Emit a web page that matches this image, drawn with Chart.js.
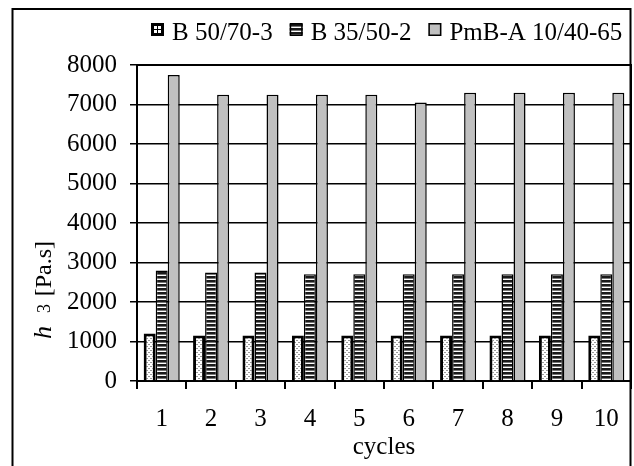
<!DOCTYPE html>
<html><head><meta charset="utf-8">
<script src="https://cdn.jsdelivr.net/npm/chart.js@4.4.0/dist/chart.umd.min.js"></script>
<style>html,body{margin:0;padding:0;background:#fff;}#wrap{width:634px;height:466px;position:relative;}</style>
</head><body><div id="wrap"><canvas id="c" width="634" height="466"></canvas></div>
<script>
const cycles = ['1','2','3','4','5','6','7','8','9','10'];
const b5070 = [1200,1150,1150,1150,1150,1150,1150,1150,1150,1150];
const b3550 = [2800,2750,2750,2700,2700,2700,2700,2700,2700,2700];
const pmba = [7750,7250,7250,7250,7250,7050,7300,7300,7300,7300];
const yTicks = [0,1000,2000,3000,4000,5000,6000,7000,8000];
const seriesNames = ['B 50/70-3','B 35/50-2','PmB-A 10/40-65'];
const xTitle = 'cycles';

const canvas = document.getElementById('c');
const ctx = canvas.getContext('2d');
function mkPattern(w,h,draw){const c=document.createElement('canvas');c.width=w;c.height=h;const g=c.getContext('2d');draw(g);return ctx.createPattern(c,'repeat');}
const dotPat = mkPattern(4,4,g=>{g.fillStyle='#fff';g.fillRect(0,0,4,4);g.fillStyle='#9a9a9a';g.fillRect(0,0,2,1);g.fillRect(2,2,2,1);});
const stripePat = mkPattern(4,4,g=>{g.fillStyle='#fff';g.fillRect(0,0,4,4);g.fillStyle='#1a1a1a';g.fillRect(0,0,4,2);g.fillStyle='#777';g.fillRect(0,2,4,1);});
const gray = '#c0c0c0';
const fills = [dotPat, stripePat, gray];
const FONT = '"Liberation Serif", "Times New Roman", serif';

const extras = {
  id:'extras',
  afterDraw(chart){
    const c = chart.ctx, a = chart.chartArea;
    c.save();
    c.strokeStyle='#000';
    c.lineWidth=2;
    c.beginPath();
    c.moveTo(12.5,470);c.lineTo(12.5,9);c.lineTo(630.5,9);c.lineTo(630.5,470);
    c.stroke();
    c.beginPath();c.moveTo(a.left,a.top);c.lineTo(a.right,a.top);c.lineTo(a.right,a.bottom);c.stroke();
    // legend
    c.font='25px '+FONT;
    c.textBaseline='alphabetic';
    let x = 151;
    const by = 23, bs = 13;
    seriesNames.forEach((name,i)=>{
      if(i===0){
        c.fillStyle='#000';c.fillRect(x,by,bs,bs);
        c.fillStyle='#fff';c.fillRect(x+3,by+3,3,3);c.fillRect(x+7,by+3,3,3);c.fillRect(x+3,by+7,3,3);c.fillRect(x+7,by+7,3,3);
      } else {
        c.fillStyle=fills[i];c.fillRect(x,by,bs,bs);
        c.lineWidth=1.5;c.strokeStyle='#000';c.strokeRect(x+0.75,by+0.75,bs-1.5,bs-1.5);
      }
      c.fillStyle='#000';
      c.fillText(name, x+bs+8, 39.5);
      x += bs+8+c.measureText(name).width+17;
    });
    // y title
    c.save();
    c.translate(51,339);
    c.rotate(-Math.PI/2);
    c.font='italic 26px '+FONT;
    c.fillText('h',0,0);
    c.font='18px '+FONT;
    c.fillText('3',26,-1);
    c.font='24px '+FONT;
    const w = c.measureText('[Pa.s]').width;
    c.fillText('[Pa.s]',98-w,0);
    c.restore();
    // x title
    c.font='25px '+FONT;
    c.textAlign='center';
    c.fillText(xTitle,(a.left+a.right)/2,454);
    c.restore();
  }
};

new Chart(ctx,{
  type:'bar',
  data:{labels:cycles,datasets:[
    {label:seriesNames[0],data:b5070,backgroundColor:dotPat,borderColor:'#000',borderWidth:3},
    {label:seriesNames[1],data:b3550,backgroundColor:stripePat,borderColor:'#000',borderWidth:1.5},
    {label:seriesNames[2],data:pmba,backgroundColor:gray,borderColor:'#000',borderWidth:1.5}
  ]},
  options:{
    responsive:false,animation:false,devicePixelRatio:1,
    layout:{padding:{left:0,top:65,right:3,bottom:0}},
    plugins:{legend:{display:false},tooltip:{enabled:false},title:{display:false}},
    datasets:{bar:{categoryPercentage:0.73,barPercentage:1}},
    scales:{
      x:{
        grid:{drawOnChartArea:false,drawTicks:true,tickLength:8,color:'#000',lineWidth:2,offset:true},
        border:{color:'#000',width:2},
        ticks:{color:'#000',font:{family:FONT,size:25},padding:15,maxRotation:0,autoSkip:false},
        afterFit:s=>{s.height=85;s.paddingLeft=0;s.paddingRight=0;}
      },
      y:{
        min:0,max:8000,
        afterBuildTicks:s=>{s.ticks=yTicks.map(v=>({value:v}));},
        grid:{color:'#000',lineWidth:1.5,tickLength:7},
        border:{color:'#000',width:2},
        ticks:{color:'#000',font:{family:FONT,size:25},padding:13,callback:v=>String(v)},
        afterFit:s=>{s.width=137;s.paddingTop=0;s.paddingBottom=0;}
      }
    }
  },
  plugins:[extras]
});
</script></body></html>
